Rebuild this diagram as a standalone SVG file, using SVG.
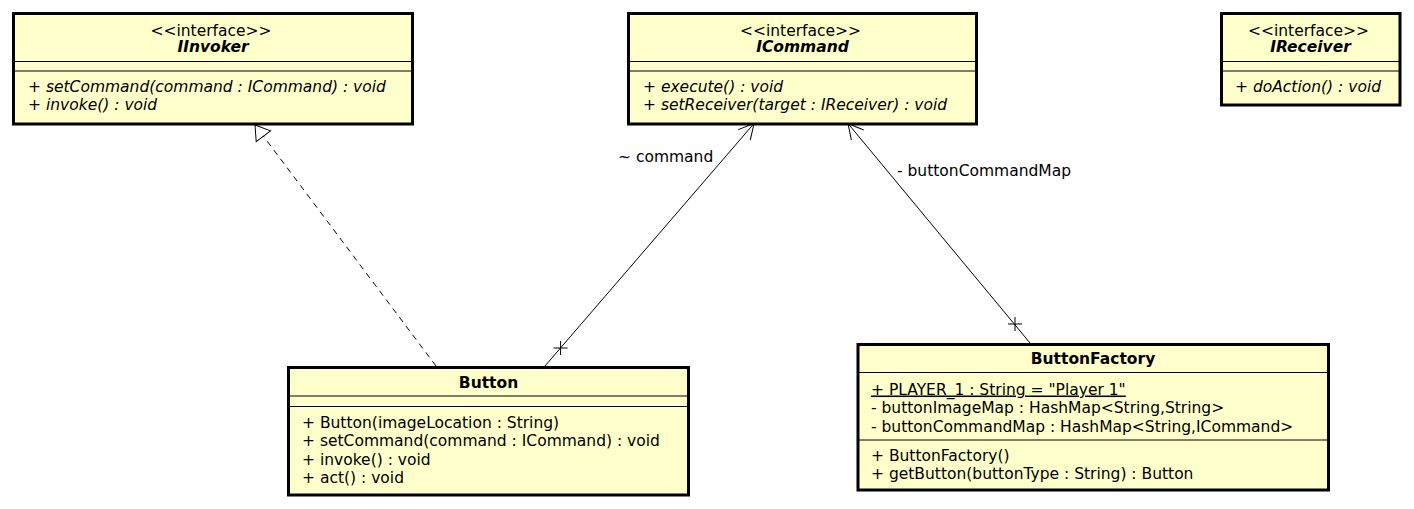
<svg xmlns="http://www.w3.org/2000/svg" width="1414" height="509" viewBox="0 0 1414 509">
<defs>
<style>
.box{fill:#ffffcc;stroke:#000;stroke-width:3}
.div{stroke:#000;stroke-width:1;fill:none}
text{font-family:"DejaVu Sans","Liberation Sans",sans-serif;font-size:15.5px;fill:#000}
.c{text-anchor:middle}
.nm{font-weight:bold}
.ab{font-weight:bold;font-style:italic}
.it{font-style:italic}
.ln{stroke:#000;stroke-width:1;fill:none}
.dash{stroke-dasharray:6 5}
</style>
<marker id="open" markerUnits="userSpaceOnUse" orient="auto" markerWidth="40" markerHeight="40" refX="0" refY="0" overflow="visible">
<path d="M -15 -8 L 0 0 L -15 8" fill="none" stroke="#000" stroke-width="1"/>
</marker>
<marker id="tri" markerUnits="userSpaceOnUse" orient="auto" markerWidth="40" markerHeight="40" refX="0" refY="0" overflow="visible">
<path d="M -14 -9 L 0 0 L -14 9 Z" fill="#fff" stroke="#000" stroke-width="1"/>
</marker>
</defs>
<rect width="1414" height="509" fill="#fff"/>

<g id="IInvoker">
<rect class="box" x="13.5" y="13.5" width="399" height="110.5"/>
<line class="div" x1="13.5" y1="61.5" x2="412.5" y2="61.5"/>
<line class="div" x1="13.5" y1="71" x2="412.5" y2="71"/>
<text class="c" x="211" y="35.5">&lt;&lt;interface&gt;&gt;</text>
<text class="c ab" x="213" y="52">IInvoker</text>
<text class="it" x="28" y="91.5">+ setCommand(command : ICommand) : void</text>
<text class="it" x="28" y="110">+ invoke() : void</text>
</g>

<g id="ICommand">
<rect class="box" x="628.5" y="13.5" width="348" height="110.5"/>
<line class="div" x1="628.5" y1="61.5" x2="976.5" y2="61.5"/>
<line class="div" x1="628.5" y1="71" x2="976.5" y2="71"/>
<text class="c" x="800.5" y="35.5">&lt;&lt;interface&gt;&gt;</text>
<text class="c ab" x="802.5" y="52">ICommand</text>
<text class="it" x="643" y="91.5">+ execute() : void</text>
<text class="it" x="643" y="110">+ setReceiver(target : IReceiver) : void</text>
</g>

<g id="IReceiver">
<rect class="box" x="1221.5" y="13.5" width="178.5" height="91.5"/>
<line class="div" x1="1221.5" y1="61.5" x2="1400" y2="61.5"/>
<line class="div" x1="1221.5" y1="71" x2="1400" y2="71"/>
<text class="c" x="1308.5" y="35.5">&lt;&lt;interface&gt;&gt;</text>
<text class="c ab" x="1310.5" y="52">IReceiver</text>
<text class="it" x="1235" y="91.5">+ doAction() : void</text>
</g>

<g id="Button">
<rect class="box" x="288.5" y="367.5" width="400" height="127.5"/>
<line class="div" x1="288.5" y1="396" x2="688.5" y2="396"/>
<line class="div" x1="288.5" y1="406.5" x2="688.5" y2="406.5"/>
<text class="c nm" x="488.5" y="388">Button</text>
<text x="302" y="427.5">+ Button(imageLocation : String)</text>
<text x="302" y="446">+ setCommand(command : ICommand) : void</text>
<text x="302" y="464.5">+ invoke() : void</text>
<text x="302" y="483">+ act() : void</text>
</g>

<g id="ButtonFactory">
<rect class="box" x="858" y="344.5" width="470.5" height="145.5"/>
<line class="div" x1="858" y1="372.5" x2="1328.5" y2="372.5"/>
<line class="div" x1="858" y1="440" x2="1328.5" y2="440"/>
<text class="c nm" x="1093" y="364">ButtonFactory</text>
<text x="871" y="394.5" text-decoration="underline">+ PLAYER_1 : String = "Player 1"</text>
<text x="871" y="413">- buttonImageMap : HashMap&lt;String,String&gt;</text>
<text x="871" y="431.5">- buttonCommandMap : HashMap&lt;String,ICommand&gt;</text>
<text x="871" y="460.5">+ ButtonFactory()</text>
<text x="871" y="479">+ getButton(buttonType : String) : Button</text>
</g>

<g id="connectors">
<path class="ln dash" d="M 436 366 L 255 125" marker-end="url(#tri)"/>
<path class="ln" d="M 545 366 L 754 123.5" marker-end="url(#open)"/>
<path class="ln" d="M 553.6 348 H 567.6 M 560.6 341 V 355"/>
<text x="618" y="161.5">~ command</text>
<path class="ln" d="M 1030 343 L 848 123.5" marker-end="url(#open)"/>
<path class="ln" d="M 1008 324 H 1022 M 1015 317 V 331"/>
<text x="897" y="176">- buttonCommandMap</text>
</g>
</svg>
